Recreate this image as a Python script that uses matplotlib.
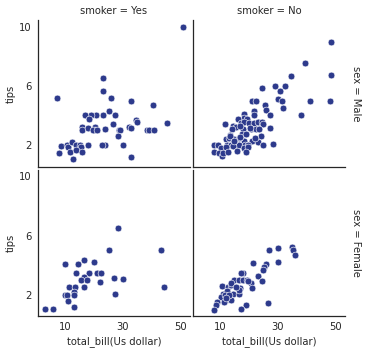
import matplotlib
matplotlib.use("Agg")
import matplotlib.pyplot as plt

# smoker = Yes, sex = Male
yes_male_bill = [50.81, 7.25, 23.17, 23.33, 25.89, 32.68, 40.55, 45.35, 25.3, 27.4,
                 23.2, 20.6, 19.0, 16.9, 18.3, 26.7, 34.7, 34.8, 15.8, 15.8,
                 17.9, 20.3, 20.4, 19.8, 21.2, 24.0, 28.6, 29.0, 32.0, 33.0,
                 38.5, 39.1, 40.8, 28.5, 24.0, 22.9, 30.2, 32.83, 8.8, 10.8,
                 11.2, 12.6, 13.9, 15.3, 15.6, 17.9, 11.7, 13.8, 15.8, 7.8, 12.7]
yes_male_tip = [10.0, 5.15, 6.5, 5.65, 5.16, 5.0, 4.73, 3.5, 4.3, 4.0,
                4.0, 4.0, 4.0, 4.0, 3.76, 3.4, 3.68, 3.56, 3.2, 3.0,
                3.15, 3.25, 3.0, 3.0, 3.0, 3.06, 3.0, 3.0, 3.2, 3.12,
                3.0, 3.0, 3.0, 2.6, 2.0, 2.0, 2.0, 1.17, 1.95, 2.0,
                1.85, 2.23, 2.0, 2.0, 1.9, 2.0, 1.56, 1.66, 1.56, 1.47, 1.08]

# smoker = No, sex = Male
no_male_bill = [48.33, 39.42, 34.63, 48.27, 24.71, 29.2, 32.5, 30.7, 21.0, 22.4,
                30.0, 31.5, 41.0, 48.0, 25.5, 31.8, 21.9, 25.9, 38.0, 27.2,
                21.9, 18.2, 18.4, 16.2, 19.5, 11.9, 14.6, 15.5, 17.2, 18.4,
                20.1, 21.7, 23.1, 24.6, 24.8, 14.3, 17.9, 20.8, 22.4, 23.4,
                27.2, 13.4, 17.5, 18.2, 12.2, 13.1, 14.7, 16.5, 24.1, 21.0,
                23.0, 8.0, 9.4, 12.4, 14.0, 15.8, 16.5, 18.8, 19.8, 24.8,
                28.5, 10.3, 12.1, 14.6, 18.2, 19.8, 8.1, 9.7, 10.6, 11.2,
                12.9, 15.8, 19.1, 16.9, 19.0, 20.5, 22.0, 13.5, 15.0, 17.0]
no_male_tip = [9.0, 7.58, 6.7, 6.73, 5.85, 5.98, 6.02, 5.63, 5.0, 5.0,
               5.08, 5.0, 5.0, 5.0, 4.7, 4.5, 4.32, 4.4, 4.02, 4.0,
               4.0, 4.1, 3.86, 3.77, 3.77, 3.4, 3.3, 3.2, 3.5, 3.55,
               3.5, 3.5, 3.55, 3.55, 3.45, 3.06, 3.06, 3.08, 3.08, 3.06,
               3.12, 2.7, 2.75, 2.3, 2.4, 2.45, 2.4, 2.45, 2.6, 2.3,
               2.2, 2.0, 2.0, 2.0, 2.0, 2.0, 2.0, 2.0, 2.0, 2.0,
               2.05, 1.8, 1.85, 1.92, 1.77, 1.86, 1.5, 1.44, 1.29, 1.44,
               1.56, 1.6, 1.56, 2.55, 2.72, 3.18, 2.5, 2.6, 2.25, 3.3]

# smoker = Yes, sex = Female
yes_female_bill = [28.17, 25.3, 43.11, 44.3, 16.5, 20.0, 9.9, 14.5, 13.7, 21.1,
                   22.5, 18.3, 16.5, 15.4, 17.6, 27.1, 30.2, 22.1, 11.5, 13.4,
                   16.5, 13.1, 10.1, 10.8, 13.0, 27.4, 10.9, 13.0, 3.07, 5.75]
yes_female_tip = [6.5, 5.0, 5.0, 2.5, 4.34, 4.2, 4.06, 4.06, 3.5, 3.5,
                  3.5, 3.5, 3.22, 3.0, 3.0, 3.15, 3.08, 2.87, 2.52, 2.52,
                  2.52, 2.17, 2.0, 2.0, 2.0, 2.03, 1.6, 1.14, 1.0, 1.0]

# smoker = No, sex = Female
no_female_bill = [27.1, 30.0, 34.8, 35.1, 35.9, 30.0, 21.3, 25.9, 25.3, 24.8,
                  17.9, 17.3, 23.1, 15.0, 16.5, 17.9, 19.2, 24.5, 20.6, 10.6,
                  12.9, 13.8, 16.9, 21.0, 10.9, 12.6, 14.4, 16.5, 10.2, 12.1,
                  13.8, 11.4, 8.9, 8.7, 18.9, 26.6, 7.8, 17.2, 12.4, 16.6,
                  14.0, 11.8, 13.2, 15.5, 19.8, 12.0]
no_female_tip = [5.03, 5.17, 5.22, 5.03, 4.69, 4.2, 4.13, 4.06, 3.85, 3.66,
                 3.5, 3.47, 3.29, 3.0, 3.0, 3.0, 3.0, 2.94, 2.82, 2.59,
                 2.52, 2.63, 2.42, 2.47, 2.03, 2.03, 2.03, 2.03, 1.84, 1.65,
                 1.65, 1.5, 1.5, 1.28, 1.33, 1.47, 0.98, 1.0, 2.25, 2.3,
                 2.8, 2.0, 1.98, 2.5, 2.9, 1.75]

panels = [[(yes_male_bill, yes_male_tip), (no_male_bill, no_male_tip)],
          [(yes_female_bill, yes_female_tip), (no_female_bill, no_female_tip)]]
col_titles = ["smoker = Yes", "smoker = No"]
row_titles = ["sex = Male", "sex = Female"]

text_color = "#262626"
plt.rcParams["font.family"] = "DejaVu Sans"
plt.rcParams["text.color"] = text_color
plt.rcParams["axes.labelcolor"] = text_color
plt.rcParams["xtick.color"] = text_color
plt.rcParams["ytick.color"] = text_color

fig, axes = plt.subplots(2, 2, figsize=(365 / 72, 352 / 72), dpi=72,
                         sharex=True, sharey=True)
fig.subplots_adjust(left=0.104, right=0.945, top=0.943, bottom=0.101,
                    wspace=0.02, hspace=0.02)

for i in range(2):
    for j in range(2):
        ax = axes[i][j]
        x, y = panels[i][j]
        ax.scatter(x, y, s=46, color="#2d3a8c", edgecolor="white",
                   linewidth=0.6, zorder=3)
        for side in ["top", "right"]:
            ax.spines[side].set_visible(False)
        for side in ["left", "bottom"]:
            ax.spines[side].set_color(text_color)
            ax.spines[side].set_linewidth(1.25)
        ax.tick_params(length=0, labelsize=10, pad=6)
        if i == 0:
            ax.set_title(col_titles[j], fontsize=10, pad=6)
        if j == 1:
            ax.text(1.04, 0.5, row_titles[i], transform=ax.transAxes,
                    rotation=270, va="center", ha="left", fontsize=10)
        if j == 0:
            ax.set_ylabel("tips", fontsize=10)
        if i == 1:
            ax.set_xlabel("total_bill(Us dollar)", fontsize=10)

axes[0][0].set_xticks([10, 30, 50])
axes[0][0].set_yticks([2, 6, 10])

fig.savefig("out.png", dpi=72)
